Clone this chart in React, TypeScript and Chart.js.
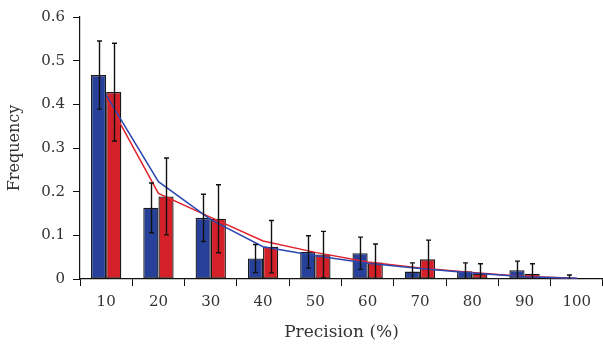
import React, { useEffect, useRef } from "react";
import { Chart, registerables } from "chart.js";

Chart.register(...registerables);

const categories = ["10", "20", "30", "40", "50", "60", "70", "80", "90", "100"];
const blueValues = [0.467, 0.163, 0.14, 0.047, 0.062, 0.059, 0.017, 0.018, 0.02, 0.002];
const blueErrors = [0.078, 0.057, 0.054, 0.032, 0.037, 0.037, 0.02, 0.019, 0.021, 0.007];
const redValues = [0.428, 0.189, 0.138, 0.074, 0.056, 0.038, 0.045, 0.012, 0.012, 0.0];
const redErrors = [0.112, 0.088, 0.078, 0.06, 0.053, 0.042, 0.044, 0.023, 0.023, 0.0];
const blueFit = [0.421, 0.223, 0.136, 0.074, 0.053, 0.036, 0.024, 0.014, 0.005, 0.002];
const redFit = [0.415, 0.196, 0.141, 0.087, 0.061, 0.039, 0.025, 0.015, 0.006, 0.002];
const yTicks = [0, 0.1, 0.2, 0.3, 0.4, 0.5, 0.6];

const FONT = "'DejaVu Serif', 'Liberation Serif', serif";
const TEXT = "#333";

const errorBarPlugin = {
  id: "errorBars",
  afterDatasetsDraw(chart: any) {
    const { ctx, chartArea, scales } = chart;
    const y = scales.y;
    ctx.save();
    ctx.beginPath();
    ctx.rect(chartArea.left, chartArea.top - 5, chartArea.right - chartArea.left, chartArea.bottom - chartArea.top + 5);
    ctx.clip();
    ctx.strokeStyle = "#111";
    ctx.lineWidth = 1.4;
    chart.data.datasets.forEach((ds: any, di: number) => {
      if (!ds.errors) return;
      const meta = chart.getDatasetMeta(di);
      meta.data.forEach((el: any, i: number) => {
        const v = ds.data[i];
        const e = ds.errors[i];
        if (!e) return;
        const x = Math.round(el.x) + 0.5;
        const yTop = y.getPixelForValue(v + e);
        const yBot = y.getPixelForValue(v - e);
        ctx.beginPath();
        ctx.moveTo(x, yTop);
        ctx.lineTo(x, yBot);
        ctx.moveTo(x - 2.5, yTop);
        ctx.lineTo(x + 2.5, yTop);
        ctx.moveTo(x - 2.5, yBot);
        ctx.lineTo(x + 2.5, yBot);
        ctx.stroke();
      });
    });
    ctx.restore();
  },
};

export default function App() {
  const ref = useRef<HTMLCanvasElement>(null);
  useEffect(() => {
    if (!ref.current) return;
    const chart = new Chart(ref.current, {
      type: "bar",
      data: {
        labels: categories,
        datasets: [
          {
            type: "line",
            data: blueFit,
            borderColor: "#2c48b0",
            borderWidth: 1.5,
            pointRadius: 0,
            fill: false,
            order: 0,
          } as any,
          {
            type: "line",
            data: redFit,
            borderColor: "#e2232d",
            borderWidth: 1.5,
            pointRadius: 0,
            fill: false,
            order: 0,
          } as any,
          {
            type: "bar",
            data: blueValues,
            errors: blueErrors,
            backgroundColor: "#27409a",
            borderColor: "#1a1a1a",
            borderWidth: 1.3,
            borderSkipped: false,
            order: 1,
          } as any,
          {
            type: "bar",
            data: redValues,
            errors: redErrors,
            backgroundColor: "#d42029",
            borderColor: "#1a1a1a",
            borderWidth: 1.3,
            borderSkipped: false,
            order: 1,
          } as any,
        ],
      },
      options: {
        animation: false,
        responsive: true,
        maintainAspectRatio: false,
        layout: { padding: { top: 13, left: 0, right: 0, bottom: 0 } },
        plugins: { legend: { display: false }, tooltip: { enabled: false } },
        datasets: { bar: { barPercentage: 1, categoryPercentage: 0.58 } } as any,
        scales: {
          x: {
            offset: true,
            grid: {
              offset: true,
              drawOnChartArea: false,
              drawTicks: true,
              tickLength: 7,
              color: "#111",
            },
            border: { display: true, color: "#111", width: 1.2 },
            ticks: {
              color: TEXT,
              font: { family: FONT, size: 15 },
              padding: 7,
              maxRotation: 0,
              autoSkip: false,
            },
            title: {
              display: true,
              text: "Precision (%)",
              color: TEXT,
              font: { family: FONT, size: 17 },
              padding: { top: 0, bottom: 6 },
            },
            afterFit(axis: any) {
              axis.height = 70;
            },
          },
          y: {
            min: 0,
            max: 0.6,
            afterBuildTicks(axis: any) {
              axis.ticks = yTicks.map((v) => ({ value: v }));
            },
            grid: {
              drawOnChartArea: false,
              drawTicks: true,
              tickLength: 7,
              color: "#111",
            },
            border: { display: true, color: "#111", width: 1.2 },
            ticks: {
              color: TEXT,
              font: { family: FONT, size: 15 },
              padding: 8,
              callback: (v: any) => (Number(v) === 0 ? "0" : Number(v).toFixed(1)),
            },
            title: {
              display: true,
              text: "Frequency",
              color: TEXT,
              font: { family: FONT, size: 16 },
              padding: { top: 5, bottom: 0 },
            },
            afterFit(axis: any) {
              axis.width = 80;
            },
          },
        },
      } as any,
      plugins: [errorBarPlugin],
    });
    return () => chart.destroy();
  }, []);
  return (
    <div style={{ position: "fixed", left: 0, top: 0, width: 603, height: 349, background: "#fff" }}>
      <canvas ref={ref} />
    </div>
  );
}
